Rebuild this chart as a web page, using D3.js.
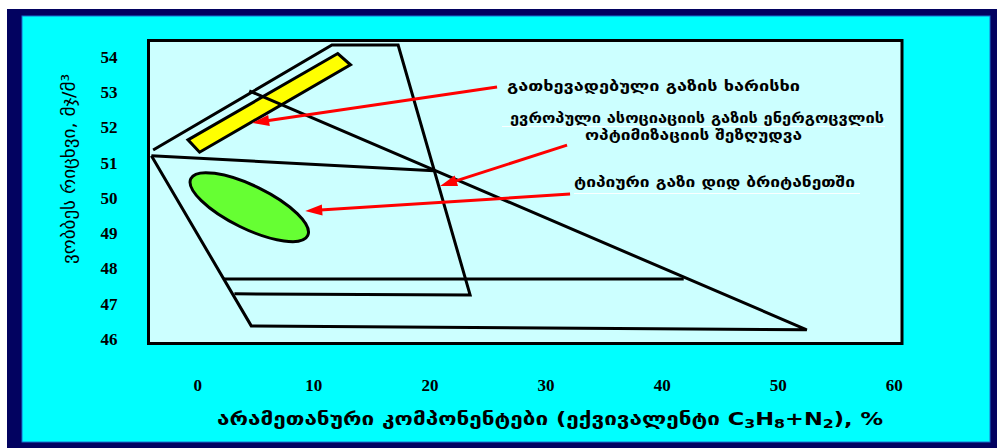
<!DOCTYPE html>
<html>
<head>
<meta charset="utf-8">
<script src="https://cdn.jsdelivr.net/npm/d3@7"></script>
<style>
  html, body { margin: 0; padding: 0; background: #ffffff; }
  svg { display: block; }
</style>
</head>
<body>
<svg id="chart" width="997" height="448"></svg>
<script>
// ---- Axis ticks ----
const xTicks = [0, 10, 20, 30, 40, 50, 60];
const yTicks = [46, 47, 48, 49, 50, 51, 52, 53, 54];

// ---- Axis titles ----
const yTitle = "ვობბეს რიცხვი, მჯ/მ³";
const xTitleParts = [
  ["არამეთანური კომპონენტები (ექვივალენტი C", false],
  ["3", true], ["H", false], ["8", true], ["+N", false], ["2", true],
  ["), %", false]
];

// ---- Interchangeability diagram, points as [non-methane %, Wobbe number MJ/m³] ----
const upperEnvelope = [[-3.8, 51.36], [11.6, 54.34], [17.3, 54.34], [23.5, 47.25], [3.2, 47.28]];
const lowerEnvelope = [[-3.95, 51.2], [4.65, 46.37], [52.5, 46.26], [4.48, 53.04]];
const euroLimit     = [[-3.95, 51.2], [20.4, 50.77]];
const midLine       = [[2.3, 47.7], [41.9, 47.7]];
const lpgBand       = [[-0.8, 51.65], [12.1, 54.1], [13.2, 53.78], [0.2, 51.3]];
const ukGasCentre   = [4.48, 49.74];

// ---- Callouts ----
const calloutText = [
  ["გათხევადებული გაზის ხარისხი"],
  ["ევროპული ასოციაციის გაზის ენერგოცვლის", "ოპტიმიზაციის შეზღუდვა"],
  ["ტიპიური გაზი დიდ ბრიტანეთში"]
];
const calloutFrom = [[25.82, 53.15], [31.85, 51.5], [32.11, 50.11]];
const calloutTo   = [[4.73, 52.13], [20.92, 50.34], [9.3, 49.63]];

// ---------------------------------------------------------------
const svg = d3.select("#chart");
const GEO = "'DejaVu Sans', 'Noto Sans', sans-serif";
const NUM = "'Liberation Serif', 'Times New Roman', serif";

// frame
svg.append("rect").attr("x", 7).attr("y", 9).attr("width", 990).attr("height", 439).attr("fill", "#020260");
svg.append("rect").attr("x", 22).attr("y", 16).attr("width", 968).attr("height", 426)
  .attr("fill", "#00ffff").attr("stroke", "#1a6fd0").attr("stroke-width", 1);

const plot = { left: 148.5, right: 902, top: 40.5, bottom: 343.5 };
const x = d3.scaleLinear().domain([-4.2, 60.7]).range([plot.left, plot.right]);
const y = d3.scaleLinear().domain([45.87, 54.47]).range([plot.bottom, plot.top]);

svg.append("rect")
  .attr("x", plot.left).attr("y", plot.top)
  .attr("width", plot.right - plot.left).attr("height", plot.bottom - plot.top)
  .attr("fill", "#ccffff").attr("stroke", "#000").attr("stroke-width", 3);

// axes (labels only)
const yAxis = svg.append("g").attr("transform", `translate(${plot.left},0)`)
  .call(d3.axisLeft(y).tickValues(yTicks).tickSize(0).tickPadding(31).tickFormat(d3.format("d")));
const xAxis = svg.append("g").attr("transform", `translate(0,${plot.bottom})`)
  .call(d3.axisBottom(x).tickValues(xTicks).tickSize(0).tickPadding(35).tickFormat(d3.format("d")));
[yAxis, xAxis].forEach(g => {
  g.select(".domain").remove();
  g.selectAll("text").attr("font-family", NUM).attr("font-weight", "bold")
    .attr("font-size", 17).attr("fill", "#000");
});

const line = d3.line().x(d => x(d[0])).y(d => y(d[1]));
const marks = svg.append("g");

// yellow LPG band
marks.append("path").datum(lpgBand)
  .attr("d", d => line(d) + "Z")
  .attr("fill", "#ffff00").attr("stroke", "#000").attr("stroke-width", 3).attr("stroke-linejoin", "miter");

// UK typical gas ellipse
marks.append("ellipse")
  .attr("transform", `translate(${x(ukGasCentre[0])},${y(ukGasCentre[1])}) rotate(26)`)
  .attr("rx", 65).attr("ry", 21.5)
  .attr("fill", "#66ff33").attr("stroke", "#000").attr("stroke-width", 3);

// boundary lines
[upperEnvelope, lowerEnvelope, euroLimit, midLine].forEach(pts => {
  marks.append("path").datum(pts).attr("d", line)
    .attr("fill", "none").attr("stroke", "#000").attr("stroke-width", 3)
    .attr("stroke-linejoin", "miter");
});

// callout arrows
calloutFrom.forEach((p, i) => {
  const x0 = x(p[0]), y0 = y(p[1]);
  const x1 = x(calloutTo[i][0]), y1 = y(calloutTo[i][1]);
  const dx = x1 - x0, dy = y1 - y0, len = Math.hypot(dx, dy);
  const ux = dx / len, uy = dy / len;
  const head = 17, half = 5.5;
  const bx = x1 - ux * head, by = y1 - uy * head;
  svg.append("line")
    .attr("x1", x0).attr("y1", y0).attr("x2", bx + ux * 2).attr("y2", by + uy * 2)
    .attr("stroke", "#ff0000").attr("stroke-width", 3);
  svg.append("path")
    .attr("d", `M${x1},${y1}L${bx - uy * half},${by + ux * half}L${bx + uy * half},${by - ux * half}Z`)
    .attr("fill", "#ff0000");
});

// widen a text run to a given length (glyphs and spacing together)
function stretchTo(sel, w) {
  return sel.attr("textLength", w).attr("lengthAdjust", "spacingAndGlyphs");
}

// faint white rules under callout text
svg.append("line").attr("x1", 502).attr("x2", 885).attr("y1", 126.5).attr("y2", 126.5)
  .attr("stroke", "#ffffff").attr("stroke-width", 1).attr("opacity", 0.9);
svg.append("line").attr("x1", 574).attr("x2", 860).attr("y1", 193.5).attr("y2", 193.5)
  .attr("stroke", "#ffffff").attr("stroke-width", 1).attr("opacity", 0.9);

// callout text
const calloutLayout = [
  [{ x: 507, y: 91, w: 293 }],
  [{ x: 510, y: 123, w: 374 }, { x: 585, y: 140, w: 217 }],
  [{ x: 574, y: 187, w: 281 }]
];
calloutText.forEach((lines, i) => {
  lines.forEach((t, j) => {
    const L = calloutLayout[i][j];
    const txt = svg.append("text")
      .attr("x", L.x).attr("y", L.y)
      .attr("font-family", GEO).attr("font-weight", "bold").attr("font-size", 14.5)
      .attr("fill", "#000").text(t);
    stretchTo(txt, L.w);
  });
});

// y title
const yt = svg.append("text")
  .attr("transform", "translate(75,264) rotate(-90)")
  .attr("font-family", GEO).attr("font-size", 18).attr("fill", "#000")
  .text(yTitle);
stretchTo(yt, 190);

// x title
const xt = svg.append("text")
  .attr("x", 217).attr("y", 425)
  .attr("font-family", GEO).attr("font-weight", "bold").attr("font-size", 18).attr("fill", "#000");
let prevSub = false;
xTitleParts.forEach(([t, sub]) => {
  const ts = xt.append("tspan").text(t);
  if (sub && !prevSub) ts.attr("font-size", "70%").attr("dy", 3);
  else if (!sub && prevSub) ts.attr("dy", -3);
  prevSub = sub;
});
stretchTo(xt, 666);
</script>
</body>
</html>
